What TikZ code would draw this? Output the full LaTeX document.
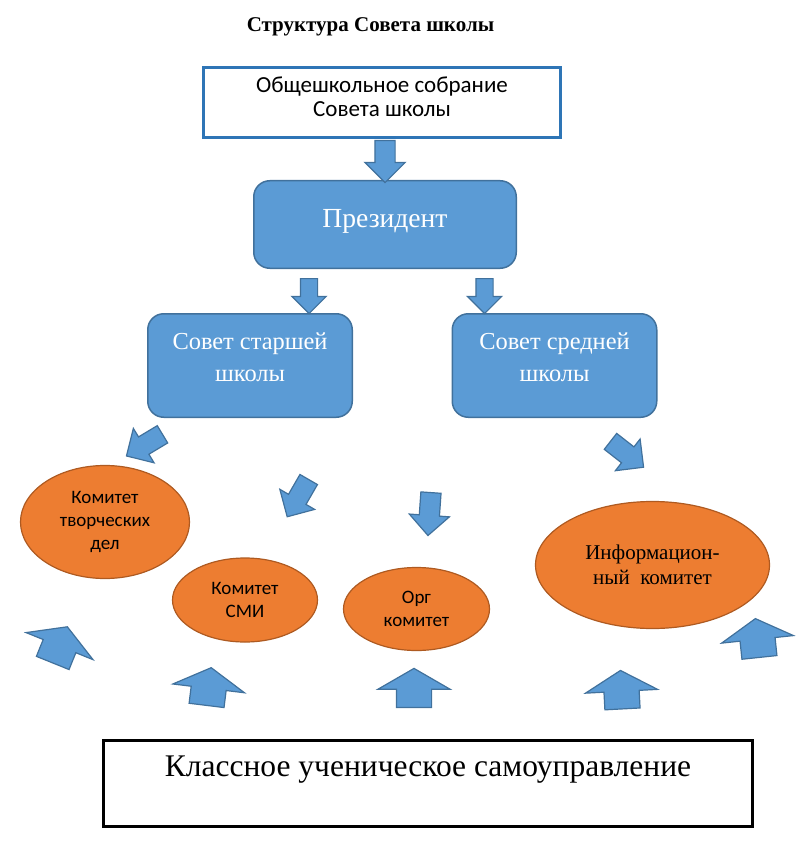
\documentclass[tikz,border=0pt]{standalone}
\usepackage{fontspec}
\setmainfont{Liberation Serif}
\newfontfamily\calibri{Carlito}
\usetikzlibrary{shapes.geometric, shapes.arrows, positioning}

\definecolor{boxblue}{HTML}{5B9BD5}
\definecolor{boxline}{HTML}{41719C}
\definecolor{frameblue}{HTML}{2E75B6}
\definecolor{comfill}{HTML}{ED7D31}
\definecolor{comline}{HTML}{AE5A21}

\begin{document}
\begin{tikzpicture}[x=1pt, y=-1pt,
    council/.style={draw=boxline, fill=boxblue, line width=1.5pt, rounded corners=16pt,
        text=white, align=center},
    committee/.style={ellipse, draw=comline, fill=comfill, line width=1.2pt, inner sep=0pt,
        align=center, font=\calibri\fontsize{19}{23}\selectfont},
    downarrow/.style={single arrow, draw=boxline, fill=boxblue, line width=1.2pt,
        inner xsep=0pt, inner ysep=9.5pt, single arrow head extend=10pt, anchor=tail},
    uparrow/.style={single arrow, draw=boxline, fill=boxblue, line width=1.2pt,
        inner xsep=0pt, inner ysep=17pt, single arrow head extend=18.5pt, single arrow tip angle=120,
        minimum height=39pt, anchor=tail}]
    \useasboundingbox (0,0) rectangle (801,850);

    \node[anchor=base, font=\bfseries\fontsize{21}{24}\selectfont] (title) at (370.5,32) {Структура Совета школы};

    \node[draw=frameblue, line width=3pt, minimum width=357pt, minimum height=70pt, align=center, text depth=11pt,
        font=\calibri\fontsize{23}{24}\selectfont] (sobr) at (382,102.5) {Общешкольное собрание\\Совета школы};
    \node[council, minimum width=262.5pt, minimum height=87.5pt, text height=19pt, text depth=14pt,
        font=\fontsize{27.6}{32}\selectfont] (prez) at (385,224.5) {Президент};
    \node[council, minimum width=204.5pt, minimum height=103.5pt, text depth=16pt,
        font=\fontsize{24.4}{32}\selectfont] (starsh) at (250,365.5) {Совет старшей\\школы};
    \node[council, minimum width=204.5pt, minimum height=103.5pt, text depth=16pt,
        font=\fontsize{24.4}{32}\selectfont, right=98.5pt of starsh] (sredn) {Совет средней\\школы};

    \node[committee, minimum width=169pt, minimum height=113pt] (ktd) at (105,522) {Комитет\\творческих\\дел};
    \node[committee, minimum width=145pt, minimum height=84pt] (ksmi) at (245,600) {Комитет\\СМИ};
    \node[committee, minimum width=146pt, minimum height=83pt] (korg) at (416.5,609) {Орг\\комитет};
    \node[committee, minimum width=234pt, minimum height=127pt,
        font=\rmfamily\fontsize{21}{25}\selectfont] (kinf) at (652.5,565) {Информацион-\\ный~~комитет};

    \node[draw, line width=3pt, minimum width=649pt, minimum height=86pt, text height=21pt, text depth=36pt,
        font=\fontsize{31.5}{34}\selectfont] (klass) at (428,783.5) {Классное ученическое самоуправление};

    % block arrows
    \node[downarrow, rotate=-90, minimum height=42pt] (a1) at (385,140) {};
    \node[downarrow, rotate=-90, minimum height=35pt, inner ysep=8pt, single arrow head extend=8.5pt] (a2) at (309,278) {};
    \node[downarrow, rotate=-90, minimum height=35pt, inner ysep=8pt, single arrow head extend=8.5pt] (a3) at (484.5,278) {};
    \node[downarrow, rotate=211, minimum height=42pt] (a4) at (163,434) {};
    \node[downarrow, rotate=240, minimum height=43pt] (a5) at (309,479) {};
    \node[downarrow, rotate=266, minimum height=43pt] (a6) at (431,492) {};
    \node[downarrow, rotate=-38, minimum height=42pt] (a7) at (610,441) {};

    \node[uparrow, rotate=68] (b1) at (52.5,663.5) {};
    \node[uparrow, rotate=83, minimum height=38pt] (b2) at (206.5,706) {};
    \node[uparrow, rotate=90] (b3) at (414,708) {};
    \node[uparrow, rotate=93, minimum height=38.5pt] (b4) at (622.5,709.5) {};
    \node[uparrow, rotate=96] (b5) at (759.5,658) {};
\end{tikzpicture}
\end{document}
